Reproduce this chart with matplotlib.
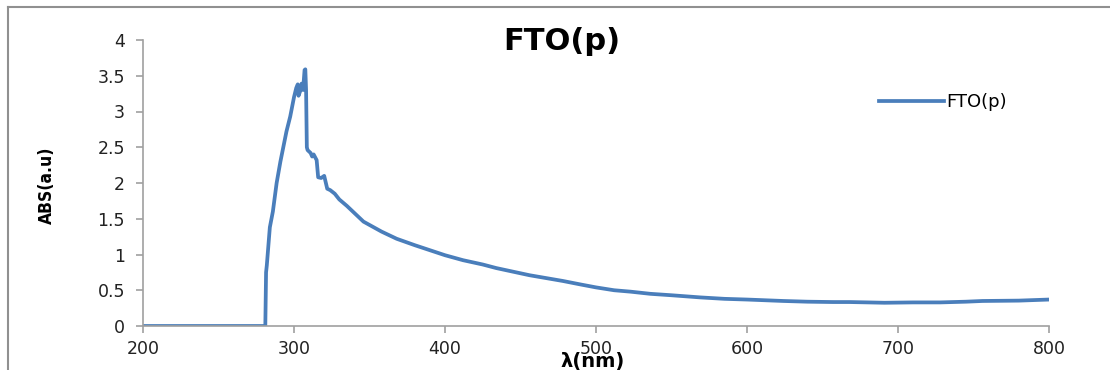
import matplotlib
matplotlib.use("Agg")
import matplotlib.pyplot as plt
from matplotlib.lines import Line2D

# wavelength (nm) and absorbance
wl = [200, 281, 281.5, 282, 284, 286, 288.5, 291, 293, 295, 297.5, 300,
      301.5, 302.5, 303, 304, 305, 306, 307, 307.5, 308, 308.5, 309, 311,
      312, 313, 315, 316, 318, 320, 322, 324, 327, 330, 335, 340, 346, 352,
      358, 368, 380, 390, 400, 412, 425, 434, 445, 456, 467, 478, 490, 500,
      512, 523, 536, 550, 569, 585, 600, 624, 640, 657, 668, 680, 691, 710,
      728, 745, 756, 780, 800]
absorb = [0, 0, 0.75, 0.85, 1.38, 1.6, 2.0, 2.3, 2.51, 2.72, 2.93, 3.2,
          3.33, 3.38, 3.22, 3.28, 3.39, 3.3, 3.58, 3.59, 3.3, 2.5, 2.46, 2.42,
          2.37, 2.40, 2.32, 2.08, 2.07, 2.10, 1.92, 1.90, 1.85, 1.77, 1.68, 1.58,
          1.46, 1.39, 1.32, 1.22, 1.13, 1.06, 0.99, 0.92, 0.86, 0.81, 0.76,
          0.71, 0.67, 0.63, 0.58, 0.54, 0.50, 0.48, 0.45, 0.43, 0.40, 0.38,
          0.37, 0.35, 0.34, 0.335, 0.335, 0.33, 0.325, 0.33, 0.33, 0.34, 0.35,
          0.355, 0.37]

xticks = [200, 300, 400, 500, 600, 700, 800]
yticks = [0, 0.5, 1, 1.5, 2, 2.5, 3, 3.5, 4]
ylabels = ["0", "0.5", "1", "1.5", "2", "2.5", "3", "3.5", "4"]

W, H = 1110, 370
fig = plt.figure(figsize=(W / 100, H / 100), dpi=100)
ax = fig.add_axes([143 / W, 1 - 326 / H, (1049 - 143) / W, (326 - 40) / H])

ax.plot(wl, absorb, color="#4a7ebb", lw=2.7, label="FTO(p)", solid_joinstyle="round")
ax.set_xlim(200, 800)
ax.set_ylim(0, 4)
ax.set_xticks(xticks)
ax.set_yticks(yticks)
ax.set_yticklabels(ylabels)

for s in ["top", "right"]:
    ax.spines[s].set_visible(False)
for s in ["left", "bottom"]:
    ax.spines[s].set_color("#a0a0a0")
    ax.spines[s].set_linewidth(1.2)
ax.tick_params(axis="both", direction="out", length=5, width=1.2, color="#a0a0a0",
               labelsize=12.5, labelcolor="#222222")
ax.tick_params(axis="x", pad=5)
ax.tick_params(axis="y", pad=8)

fig.text(47 / W, 1 - 185 / H, "ABS(a.u)", rotation=90, ha="center", va="center",
         fontsize=12.5, fontweight="bold", fontstretch="condensed",
         family=["DejaVu Sans"])
fig.text(593 / W, 1 - 362 / H, "λ(nm)", ha="center", va="center",
         fontsize=14, fontweight="bold", family=["DejaVu Sans"])
fig.text(562 / W, 1 - 41 / H, "FTO(p)", ha="center", va="center",
         fontsize=22, fontweight="bold", family=["DejaVu Sans"])

ax.legend(loc="center left", bbox_to_anchor=(870 / W, 1 - 102 / H),
          bbox_transform=fig.transFigure, frameon=False, fontsize=13,
          handlelength=3.6, handletextpad=0.15, borderpad=0)

# outer chart frame
fig.add_artist(Line2D([8 / W, 1], [1 - 7 / H, 1 - 7 / H], color="#909090", lw=1.5,
                      transform=fig.transFigure))
fig.add_artist(Line2D([8 / W, 8 / W], [0, 1 - 7 / H], color="#909090", lw=1.5,
                      transform=fig.transFigure))

fig.savefig("out.png", dpi=100)
